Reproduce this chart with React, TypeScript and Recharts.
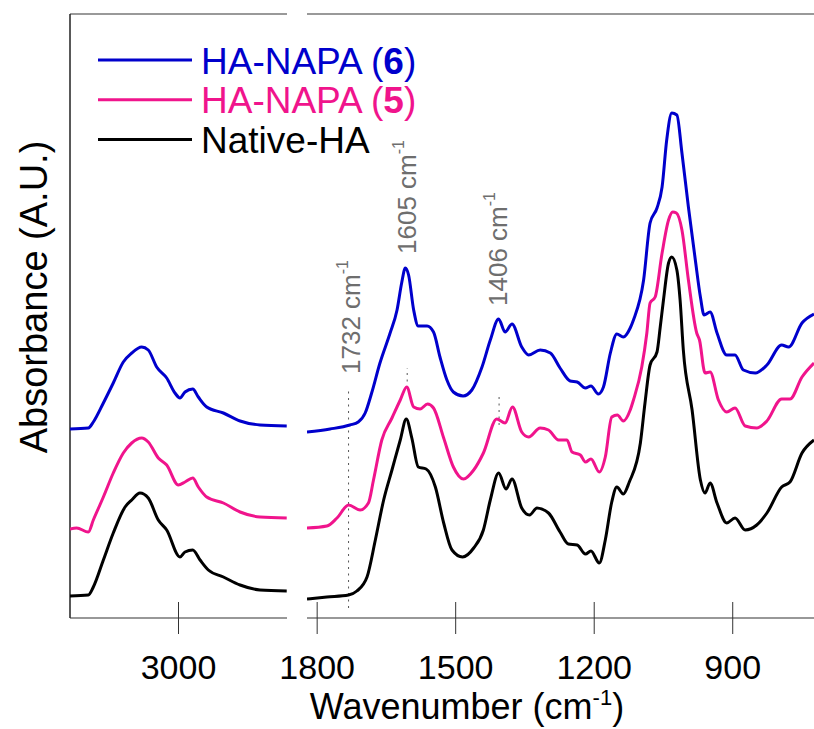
import React from "react";
import {
  LineChart,
  Line,
  XAxis,
  YAxis,
  ReferenceLine,
  ReferenceDot,
} from "recharts";

const FONT = "'Liberation Sans', Arial, Helvetica, sans-serif";

// [wavenumber cm-1, absorbance a.u. (traces offset)] — O-H / C-H region
const ha6High: [number, number][] = [
  [3800, 1.89], [3665, 1.9], [3628, 1.96], [3554, 2.15], [3481, 2.35], [3407, 2.56],
  [3345, 2.65], [3271, 2.71], [3223, 2.68], [3161, 2.51], [3087, 2.4], [3026, 2.25],
  [2989, 2.2], [2952, 2.26], [2895, 2.29], [2854, 2.21], [2792, 2.11], [2669, 2.05],
  [2546, 1.97], [2399, 1.93], [2202, 1.92],
];
const ha5High: [number, number][] = [
  [3800, 0.89], [3751, 0.9], [3665, 0.86], [3628, 0.98], [3554, 1.21], [3481, 1.45],
  [3407, 1.65], [3345, 1.75], [3271, 1.8], [3223, 1.76], [3149, 1.6], [3087, 1.53],
  [3001, 1.33], [2952, 1.36], [2895, 1.4], [2854, 1.31], [2792, 1.21], [2669, 1.15],
  [2546, 1.06], [2399, 1.01], [2202, 1.0],
];
const nativeHigh: [number, number][] = [
  [3800, 0.22], [3665, 0.23], [3628, 0.31], [3554, 0.58], [3481, 0.85], [3394, 1.11],
  [3345, 1.18], [3284, 1.25], [3223, 1.2], [3149, 0.98], [3087, 0.88], [2989, 0.61],
  [2952, 0.66], [2895, 0.68], [2841, 0.58], [2780, 0.48], [2669, 0.41], [2546, 0.33],
  [2399, 0.28], [2202, 0.27],
];

// fingerprint region
const ha6Low: [number, number][] = [
  [1822, 1.86], [1772, 1.89], [1729, 1.93], [1711, 1.96], [1696, 2.05], [1682, 2.25],
  [1664, 2.55], [1642, 2.85], [1627, 3.08], [1617, 3.35], [1609, 3.5], [1602, 3.43],
  [1591, 3.08], [1581, 2.92], [1562, 2.92], [1548, 2.86], [1534, 2.61], [1519, 2.38],
  [1505, 2.26], [1484, 2.22], [1465, 2.28], [1443, 2.51], [1425, 2.78], [1407, 2.99],
  [1393, 2.86], [1378, 2.94], [1357, 2.71], [1342, 2.63], [1317, 2.68], [1295, 2.65],
  [1274, 2.5], [1252, 2.37], [1237, 2.36], [1219, 2.3], [1207, 2.32], [1191, 2.24],
  [1180, 2.31], [1165, 2.65], [1151, 2.84], [1137, 2.81], [1122, 2.9], [1115, 2.98],
  [1093, 3.38], [1079, 3.95], [1064, 4.1], [1053, 4.31], [1043, 4.78], [1032, 5.05],
  [1021, 5.03], [1010, 4.65], [996, 4.11], [981, 3.58], [970, 3.21], [962, 3.03],
  [949, 3.06], [934, 2.85], [913, 2.63], [895, 2.63], [877, 2.48], [851, 2.45],
  [826, 2.53], [794, 2.73], [779, 2.71], [750, 2.95], [724, 3.04],
];
const ha5Low: [number, number][] = [
  [1822, 0.9], [1779, 0.92], [1757, 1.0], [1732, 1.13], [1707, 1.08], [1689, 1.15],
  [1678, 1.38], [1660, 1.78], [1638, 2.0], [1620, 2.18], [1606, 2.31], [1591, 2.11],
  [1577, 2.09], [1561, 2.14], [1548, 2.1], [1526, 1.8], [1505, 1.51], [1483, 1.39],
  [1461, 1.48], [1440, 1.65], [1411, 1.99], [1393, 1.95], [1377, 2.11], [1357, 1.86],
  [1342, 1.81], [1317, 1.9], [1299, 1.88], [1277, 1.78], [1259, 1.78], [1248, 1.66],
  [1230, 1.63], [1219, 1.56], [1207, 1.59], [1189, 1.46], [1176, 1.61], [1162, 2.01],
  [1150, 2.03], [1137, 1.97], [1122, 2.08], [1115, 2.18], [1097, 2.51], [1086, 2.85],
  [1079, 3.15], [1068, 3.21], [1053, 3.65], [1039, 3.98], [1030, 4.06], [1022, 4.05],
  [1010, 3.88], [996, 3.38], [978, 2.85], [972, 2.78], [960, 2.45], [949, 2.46],
  [931, 2.18], [913, 2.06], [895, 2.1], [873, 1.92], [848, 1.9], [826, 1.97],
  [794, 2.19], [776, 2.19], [750, 2.41], [724, 2.55],
];
const nativeLow: [number, number][] = [
  [1822, 0.19], [1779, 0.21], [1732, 0.23], [1714, 0.27], [1692, 0.41], [1674, 0.78],
  [1656, 1.18], [1638, 1.48], [1620, 1.78], [1607, 1.99], [1595, 1.8], [1581, 1.51],
  [1564, 1.49], [1544, 1.31], [1526, 0.95], [1508, 0.68], [1485, 0.61], [1461, 0.7],
  [1440, 0.88], [1425, 1.18], [1407, 1.45], [1391, 1.29], [1378, 1.39], [1357, 1.1],
  [1340, 1.03], [1324, 1.1], [1299, 1.05], [1274, 0.86], [1256, 0.74], [1237, 0.73],
  [1219, 0.64], [1207, 0.67], [1189, 0.55], [1176, 0.78], [1162, 1.16], [1151, 1.31],
  [1137, 1.24], [1124, 1.36], [1100, 1.75], [1090, 2.15], [1079, 2.53], [1064, 2.66],
  [1057, 2.91], [1050, 3.18], [1039, 3.55], [1032, 3.61], [1021, 3.48], [1014, 3.18],
  [1007, 2.68], [988, 2.08], [970, 1.38], [960, 1.25], [949, 1.35], [934, 1.15],
  [913, 0.95], [895, 1.0], [873, 0.88], [848, 0.93], [826, 1.05], [794, 1.31],
  [776, 1.36], [750, 1.65], [724, 1.78],
];

const seriesNames = ["HA-NAPA", "HA-NAPA", "Native-HA"];
const seriesTags = ["6", "5", ""];
const seriesColors = ["#0000CC", "#F0148C", "#000000"];

const highTicks = [3000];
const lowTicks = [1800, 1500, 1200, 900];
const highDomain = [2200, 3800];
const lowDomain = [724, 1822];
const absDomain = [0, 6.04];

// marked bands: dotted guide (from/to absorbance) and label centre
const bands = [
  { wn: 1732, from: 0.1, to: 2.3, labelWn: 1726, labelAbs: 3.01 },
  { wn: 1605, from: 2.3, to: 2.5, labelWn: 1605, labelAbs: 4.21 },
  { wn: 1406, from: 1.93, to: 2.23, labelWn: 1408, labelAbs: 3.69 },
];

const toPoints = (arr: [number, number][]) => arr.map(([w, a]) => ({ w, a }));

const highSeries = [ha6High, ha5High, nativeHigh].map(toPoints);
const lowSeries = [ha6Low, ha5Low, nativeLow].map(toPoints);

const AxisTick = (props: any) => {
  const { x, y, payload } = props;
  return (
    <g>
      <line x1={x} x2={x} y1={y - 16} y2={y + 16} stroke="#333" strokeWidth={1} />
      <text x={x} y={y + 61} textAnchor="middle" fontSize={34} fontFamily={FONT} fill="#000">
        {payload.value}
      </text>
    </g>
  );
};

const bandLabel = (wn: number) => (p: any) => {
  const vb = p.viewBox || {};
  const cx = (vb.x ?? 0) + (vb.width ?? 0) / 2;
  const cy = (vb.y ?? 0) + (vb.height ?? 0) / 2;
  return (
    <text
      x={cx}
      y={cy}
      transform={`rotate(-90 ${cx} ${cy})`}
      textAnchor="middle"
      dominantBaseline="central"
      fontSize={26}
      fontFamily={FONT}
      fill="#6e6e6e"
    >
      {wn} cm
      <tspan dy={-9} fontSize={16}>-1</tspan>
    </text>
  );
};

const lines = (series: { w: number; a: number }[][]) =>
  series.map((d, i) => (
    <Line
      key={i}
      data={d}
      dataKey="a"
      type="monotone"
      stroke={seriesColors[i]}
      strokeWidth={3}
      dot={false}
      activeDot={false}
      isAnimationActive={false}
    />
  ));

export default function App() {
  return (
    <div
      style={{
        position: "absolute",
        left: 0,
        top: 0,
        width: 814,
        height: 729,
        overflow: "hidden",
        background: "#fff",
      }}
    >
      <div style={{ position: "absolute", left: 0, top: 0 }}>
        <LineChart width={297} height={729} margin={{ top: 14, right: 10, bottom: 0, left: 70 }}>
          <XAxis
            dataKey="w"
            type="number"
            domain={highDomain}
            reversed
            ticks={highTicks}
            height={111}
            tickSize={0}
            tickMargin={0}
            tickLine={false}
            tick={<AxisTick />}
            axisLine={{ stroke: "#333", strokeWidth: 1.2 }}
            allowDataOverflow
          />
          <YAxis type="number" domain={absDomain} hide />
          <ReferenceLine y={absDomain[1]} stroke="#777" strokeWidth={1.5} />
          <ReferenceLine x={highDomain[1]} stroke="#222" strokeWidth={1.5} />
          {lines(highSeries)}
        </LineChart>
      </div>

      <div style={{ position: "absolute", left: 240, top: 0 }}>
        <LineChart width={574} height={729} margin={{ top: 14, right: 0, bottom: 0, left: 67 }}>
          <XAxis
            dataKey="w"
            type="number"
            domain={lowDomain}
            reversed
            ticks={lowTicks}
            height={111}
            tickSize={0}
            tickMargin={0}
            tickLine={false}
            tick={<AxisTick />}
            axisLine={{ stroke: "#333", strokeWidth: 1.2 }}
            allowDataOverflow
          />
          <YAxis type="number" domain={absDomain} hide />
          <ReferenceLine y={absDomain[1]} stroke="#777" strokeWidth={1.5} />
          {bands.map((b) => (
            <ReferenceLine
              key={`g${b.wn}`}
              segment={[
                { x: b.wn, y: b.from },
                { x: b.wn, y: b.to },
              ]}
              stroke="#555"
              strokeWidth={1}
              strokeDasharray="2 4.5"
            />
          ))}
          {lines(lowSeries)}
          {bands.map((b) => (
            <ReferenceDot
              key={`l${b.wn}`}
              x={b.labelWn}
              y={b.labelAbs}
              r={1}
              fill="none"
              stroke="none"
              label={{ content: bandLabel(b.wn) }}
            />
          ))}
        </LineChart>
      </div>

      <svg
        width={814}
        height={729}
        style={{ position: "absolute", left: 0, top: 0, pointerEvents: "none" }}
      >
        {seriesNames.map((name, i) => {
          const y = 60 + i * 39.8;
          return (
            <g key={i}>
              <line x1={98} x2={192} y1={y} y2={y} stroke={seriesColors[i]} strokeWidth={3} />
              <text x={201} y={y + 13.5} fontSize={37} fontFamily={FONT} fill={seriesColors[i]}>
                {name}
                {seriesTags[i] && (
                  <>
                    {" ("}
                    <tspan fontWeight="bold">{seriesTags[i]}</tspan>
                    {")"}
                  </>
                )}
              </text>
            </g>
          );
        })}
        <text
          x={0}
          y={0}
          transform="translate(34 297) rotate(-90)"
          textAnchor="middle"
          dominantBaseline="central"
          fontSize={38}
          fontFamily={FONT}
          fill="#000"
        >
          Absorbance (A.U.)
        </text>
        <text x={467} y={719} textAnchor="middle" fontSize={36} fontFamily={FONT} fill="#000">
          Wavenumber (cm
          <tspan dy={-14} fontSize={22}>-1</tspan>
          <tspan dy={14}>)</tspan>
        </text>
      </svg>
    </div>
  );
}
